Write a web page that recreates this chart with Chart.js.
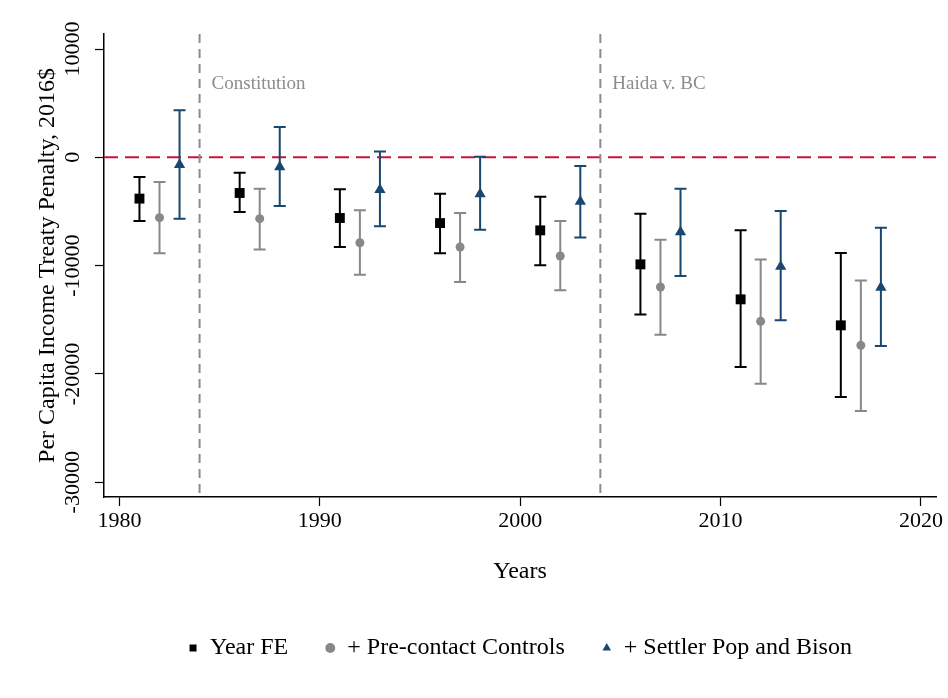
<!DOCTYPE html>
<html>
<head>
<meta charset="utf-8">
<script src="https://cdn.jsdelivr.net/npm/chart.js@4"></script>
<style>
  body { margin: 0; background: #fff; }
</style>
</head>
<body>
<canvas id="penalty" width="948" height="698"></canvas>
<script>
// point estimates and 95% bounds
const yearsFE = [1981, 1986, 1991, 1996, 2001, 2006, 2011, 2016];
const estFE = [-3810, -3290, -5600, -6070, -6740, -9880, -13110, -15510];
const loFE = [-5880, -5050, -8280, -8860, -9970, -14520, -19360, -22130];
const hiFE = [-1820, -1410, -2950, -3350, -3630, -5200, -6740, -8840];

const yearsPre = [1982, 1987, 1992, 1997, 2002, 2007, 2012, 2017];
const estPre = [-5570, -5660, -7880, -8280, -9110, -11970, -15140, -17360];
const loPre = [-8860, -8500, -10830, -11510, -12280, -16370, -20900, -23430];
const hiPre = [-2280, -2890, -4890, -5140, -5880, -7600, -9420, -11360];

const yearsSettler = [1983, 1988, 1993, 1998, 2003, 2008, 2013, 2018];
const estSettler = [-680, -900, -2990, -3390, -4070, -6900, -10070, -12010];
const loSettler = [-5660, -4500, -6370, -6680, -7410, -10960, -15050, -17420];
const hiSettler = [4340, 2800, 550, 60, -800, -2890, -4960, -6490];

const xTicks = [1980, 1990, 2000, 2010, 2020];
const yTicks = [-30000, -20000, -10000, 0, 10000];

const eventYears = [1984, 2004];
const eventLabels = ['Constitution', 'Haida v. BC'];

const black = '#000000';
const grey = '#888888';
const navy = '#1a476f';
const zeroColor = '#c8143c';

Chart.defaults.font.family = "'Liberation Serif', 'Times New Roman', serif";
Chart.defaults.color = '#000';

const points = (xs, est, lo, hi) => xs.map((x, i) => ({ x: x, y: est[i], lo: lo[i], hi: hi[i] }));

// zero line, event lines and error bars, drawn under the markers
const errorBars = {
    id: 'errorBars',
    beforeDatasetsDraw(chart) {
        const { ctx, chartArea, scales: { x, y } } = chart;
        ctx.save();

        const y0 = y.getPixelForValue(0);
        ctx.strokeStyle = zeroColor;
        ctx.lineWidth = 2;
        ctx.setLineDash([14, 7]);
        ctx.beginPath();
        ctx.moveTo(chartArea.left, y0);
        ctx.lineTo(chartArea.right, y0);
        ctx.stroke();

        ctx.strokeStyle = '#8c8c8c';
        ctx.setLineDash([9, 6]);
        ctx.fillStyle = '#8c8c8c';
        ctx.font = "19px 'Liberation Serif', serif";
        ctx.textBaseline = 'alphabetic';
        eventYears.forEach((yr, i) => {
            const px = x.getPixelForValue(yr);
            ctx.beginPath();
            ctx.moveTo(px, chartArea.top);
            ctx.lineTo(px, chartArea.bottom);
            ctx.stroke();
            ctx.fillText(eventLabels[i], px + 12, chartArea.top + 55);
        });

        ctx.setLineDash([]);
        ctx.lineWidth = 2;
        chart.data.datasets.forEach((ds, i) => {
            if (!chart.isDatasetVisible(i)) return;
            ctx.strokeStyle = ds.borderColor;
            ds.data.forEach((pt) => {
                const px = x.getPixelForValue(pt.x);
                const top = y.getPixelForValue(pt.hi);
                const bot = y.getPixelForValue(pt.lo);
                ctx.beginPath();
                ctx.moveTo(px, top);
                ctx.lineTo(px, bot);
                ctx.moveTo(px - 6, top);
                ctx.lineTo(px + 6, top);
                ctx.moveTo(px - 6, bot);
                ctx.lineTo(px + 6, bot);
                ctx.stroke();
            });
        });
        ctx.restore();
    },
};

const ctx = document.getElementById('penalty').getContext('2d');
new Chart(ctx, {
    type: 'scatter',
    data: {
        datasets: [
            {
                label: 'Year FE',
                data: points(yearsFE, estFE, loFE, hiFE),
                backgroundColor: black,
                borderColor: black,
                borderWidth: 0,
                pointStyle: 'rect',
                pointRadius: 7,
                pointHoverRadius: 7,
            },
            {
                label: '+ Pre-contact Controls',
                data: points(yearsPre, estPre, loPre, hiPre),
                backgroundColor: grey,
                borderColor: grey,
                borderWidth: 0,
                pointStyle: 'circle',
                pointRadius: 4.5,
                pointHoverRadius: 4.5,
            },
            {
                label: '+ Settler Pop and Bison',
                data: points(yearsSettler, estSettler, loSettler, hiSettler),
                backgroundColor: navy,
                borderColor: navy,
                borderWidth: 0,
                pointStyle: 'triangle',
                pointRadius: 6.5,
                pointHoverRadius: 6.5,
            },
        ],
    },
    options: {
        responsive: false,
        devicePixelRatio: 1,
        animation: false,
        layout: { padding: { left: 0, top: 34, right: 12, bottom: 28 } },
        plugins: {
            tooltip: { enabled: false },
            legend: {
                position: 'bottom',
                fullSize: false,
                labels: {
                    usePointStyle: true,
                    boxWidth: 10,
                    boxHeight: 7,
                    padding: 37,
                    color: '#000',
                    font: { size: 24 },
                },
            },
        },
        scales: {
            x: {
                type: 'linear',
                min: 1979.23,
                max: 2020.75,
                afterBuildTicks: (scale) => { scale.ticks = xTicks.map((v) => ({ value: v })); },
                afterFit: (scale) => { scale.height = 102; },
                grid: { drawOnChartArea: false, drawTicks: true, tickLength: 9, tickColor: '#000', tickWidth: 1.2 },
                border: { display: true, color: '#000', width: 1.5 },
                ticks: {
                    font: { size: 22 },
                    color: '#000',
                    padding: 2,
                    minRotation: 0,
                    maxRotation: 0,
                    callback: (v) => String(v),
                },
                title: {
                    display: true,
                    text: 'Years',
                    font: { size: 24 },
                    color: '#000',
                    padding: { top: 0, bottom: 12.6 },
                },
            },
            y: {
                type: 'linear',
                min: -31360,
                max: 11390,
                afterBuildTicks: (scale) => { scale.ticks = yTicks.map((v) => ({ value: v })); },
                afterFit: (scale) => { scale.width = 104; },
                grid: { drawOnChartArea: false, drawTicks: true, tickLength: 9, tickColor: '#000', tickWidth: 1.2 },
                border: { display: true, color: '#000', width: 1.5 },
                ticks: {
                    font: { size: 22 },
                    color: '#000',
                    minRotation: 90,
                    maxRotation: 90,
                    crossAlign: 'center',
                    padding: -9.7,
                    autoSkip: false,
                    callback: (v) => String(v),
                },
                title: {
                    display: true,
                    text: 'Per Capita Income Treaty Penalty, 2016$',
                    font: { size: 24 },
                    color: '#000',
                    padding: { top: 33.6, bottom: 0 },
                },
            },
        },
    },
    plugins: [errorBars],
});
</script>
</body>
</html>
